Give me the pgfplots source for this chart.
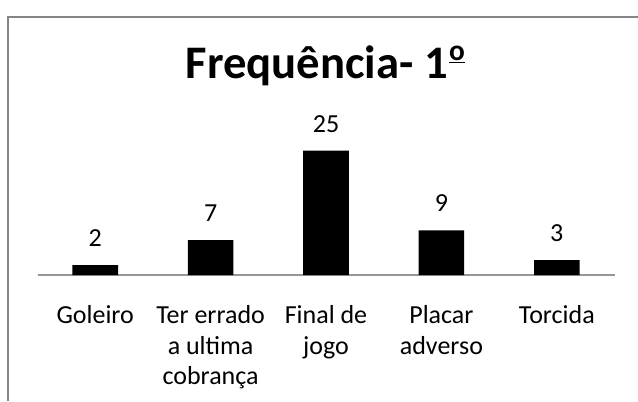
\documentclass[border=0pt]{standalone}
\usepackage{pgfplots}
\pgfplotsset{compat=1.18}
\usepackage{fontspec}
\setmainfont{Carlito}
\definecolor{framegray}{RGB}{134,134,134}
\definecolor{axgray}{RGB}{150,150,150}
\newcommand{\tl}[1]{\begin{tabular}[t]{@{}c@{}}#1\end{tabular}}
\newcommand{\ordo}{\raisebox{13pt}{\fontsize{22}{22}\selectfont\bfseries\underline{o}}}
\begin{document}
\begin{tikzpicture}
\useasboundingbox (0pt,0pt) rectangle (478.5pt,300.75pt);
\draw[framegray, line width=1.5pt] (6pt,0pt) -- (6pt,288pt) -- (480pt,288pt);
\node[font=\fontsize{35}{42}\selectfont\bfseries, anchor=base] at (244pt,242.25pt) {Frequência- 1\kern1pt\ordo};
\begin{axis}[
  at={(28.125pt,94.5pt)}, anchor=south west,
  scale only axis, width=432.75pt, height=93.2pt,
  xmin=-0.5, xmax=4.5, ymin=0, ymax=25,
  clip=false,
  axis x line*=bottom, axis y line=none,
  x axis line style={-, axgray, line width=1.5pt},
  ybar, bar width=34.2pt,
  xtick={0,1,2,3,4},
  xticklabels={{\tl{Goleiro}}, {\tl{Ter errado\\a ultima\\cobrança}}, {\tl{Final de\\jogo}}, {\tl{Placar\\adverso}}, {\tl{Torcida}}},
  xtick style={draw=none},
  xticklabel style={font=\fontsize{19.5}{23}\selectfont, anchor=base, yshift=-32pt},
  nodes near coords,
  /pgf/number format/assume math mode=true,
  every node near coord/.append style={font=\fontsize{19.5}{23}\selectfont, anchor=base, yshift=14pt, text=black},
]
\addplot[fill=black, draw=none] coordinates {(0,2) (1,7) (2,25) (3,9) (4,3)};
\end{axis}
\end{tikzpicture}
\end{document}
